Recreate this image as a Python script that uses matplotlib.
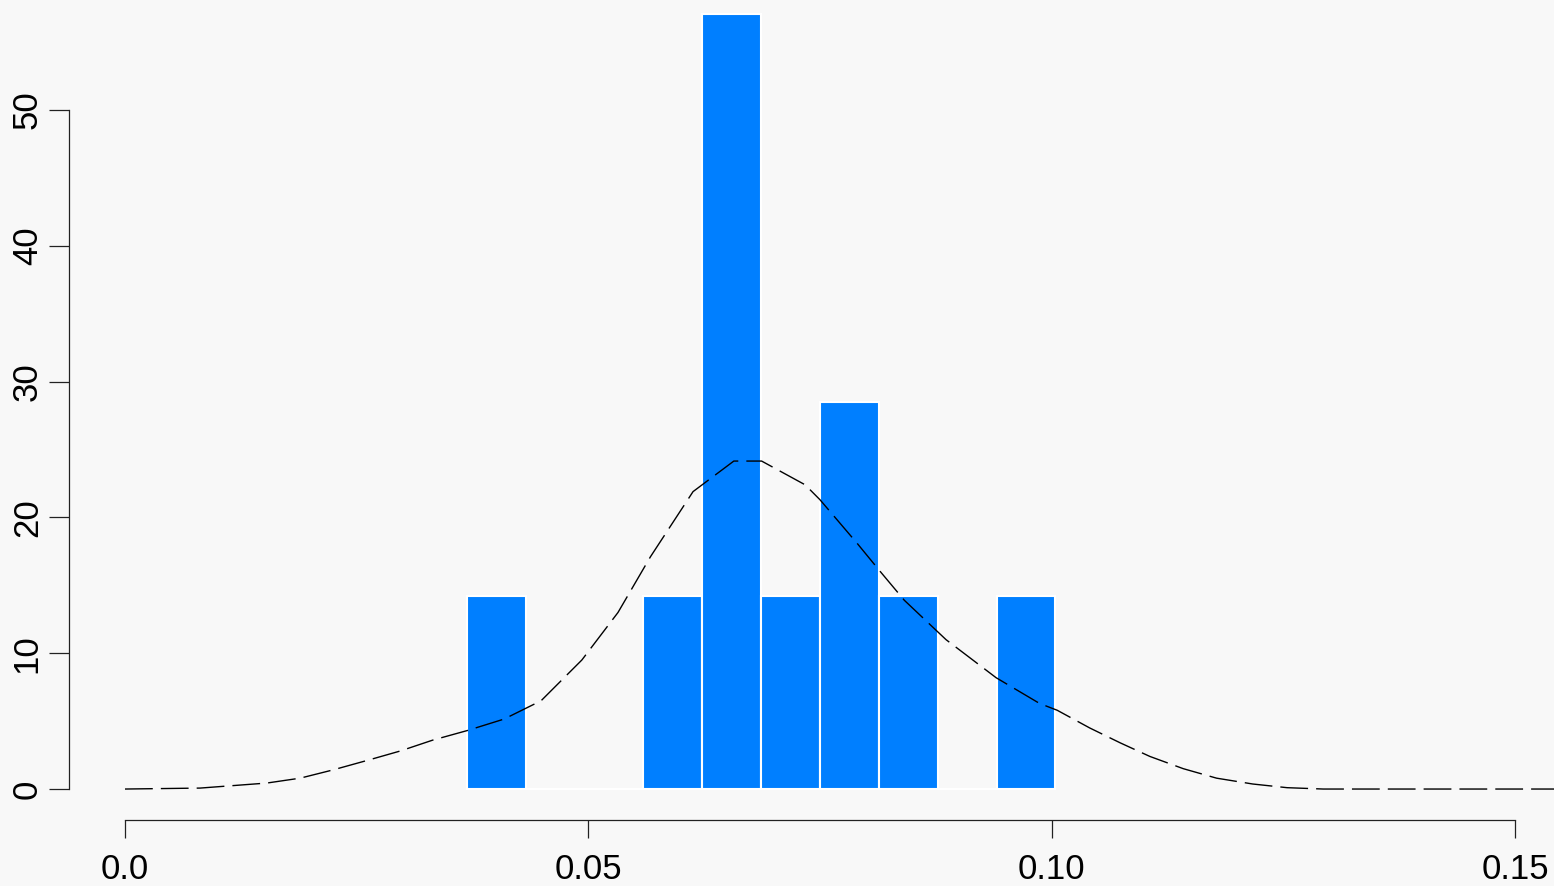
import matplotlib
matplotlib.use("Agg")
import matplotlib.pyplot as plt
import numpy as np

# histogram (density scale): bin edges and densities
bin_edges = [0.0369, 0.04325, 0.0496, 0.05595, 0.0623, 0.06865,
             0.075, 0.08135, 0.0877, 0.09405, 0.1004]
bin_density = [14.2, 0, 0, 14.2, 57.1, 14.2, 28.5, 14.2, 0, 14.2]

# density curve
curve_x = [0.0, 0.0081, 0.0153, 0.0189, 0.0224, 0.0261, 0.0297, 0.0332,
           0.0369, 0.0409, 0.0449, 0.0493, 0.0532, 0.0567, 0.0613, 0.0657,
           0.0687, 0.0734, 0.0750, 0.0790, 0.0814, 0.0841, 0.0886, 0.0940,
           0.0987, 0.1006, 0.1041, 0.1074, 0.1106, 0.1142, 0.1178, 0.1217,
           0.1254, 0.1293, 0.1600]
curve_y = [0.0, 0.07, 0.44, 0.8, 1.4, 2.1, 2.8, 3.6,
           4.3, 5.15, 6.5, 9.5, 13.0, 17.1, 21.9, 24.15,
           24.15, 22.4, 21.3, 18.1, 16.1, 13.9, 11.0, 8.2,
           6.3, 5.8, 4.5, 3.4, 2.4, 1.5, 0.8, 0.37,
           0.1, 0.0, 0.0]

x_ticks = [0.0, 0.05, 0.10, 0.15]
x_labels = ["0.0", "0.05", "0.10", "0.15"]
y_ticks = [0, 10, 20, 30, 40, 50]

bg = "#f8f8f8"
plt.rcParams['font.family'] = ['Liberation Sans', 'DejaVu Sans']

fig = plt.figure(figsize=(15.54, 8.86), dpi=100, facecolor=bg)
ax = fig.add_axes([0, 0, 1, 1], facecolor=bg)

edges = np.array(bin_edges)
ax.bar(edges[:-1], bin_density, width=np.diff(edges), align="edge",
       color="#007fff", edgecolor="white", linewidth=1.5, zorder=2)

ax.plot(curve_x, curve_y, color="black", linewidth=1.0,
        dashes=(20, 5.8), zorder=3)

ax.set_xlim(-0.01349, 0.15421)
ax.set_ylim(-7.14, 58.10)

for s in ["top", "right"]:
    ax.spines[s].set_visible(False)
ax.spines["left"].set_position(("data", -0.00604))
ax.spines["left"].set_bounds(0, 50)
ax.spines["bottom"].set_position(("data", -2.283))
ax.spines["bottom"].set_bounds(0, 0.15)
for s in ["left", "bottom"]:
    ax.spines[s].set_linewidth(0.9)
    ax.spines[s].set_color("#222222")

ax.set_xticks(x_ticks)
ax.set_xticklabels(x_labels)
ax.set_yticks(y_ticks)
ax.set_yticklabels([str(v) for v in y_ticks], rotation=90, va="center")
ax.tick_params(axis="x", length=12.8, width=0.9, color="#222222",
               labelsize=25, pad=11)
ax.tick_params(axis="y", length=14.2, width=0.9, color="#222222",
               labelsize=25, pad=4)

fig.savefig("out.png", dpi=100, facecolor=bg)
